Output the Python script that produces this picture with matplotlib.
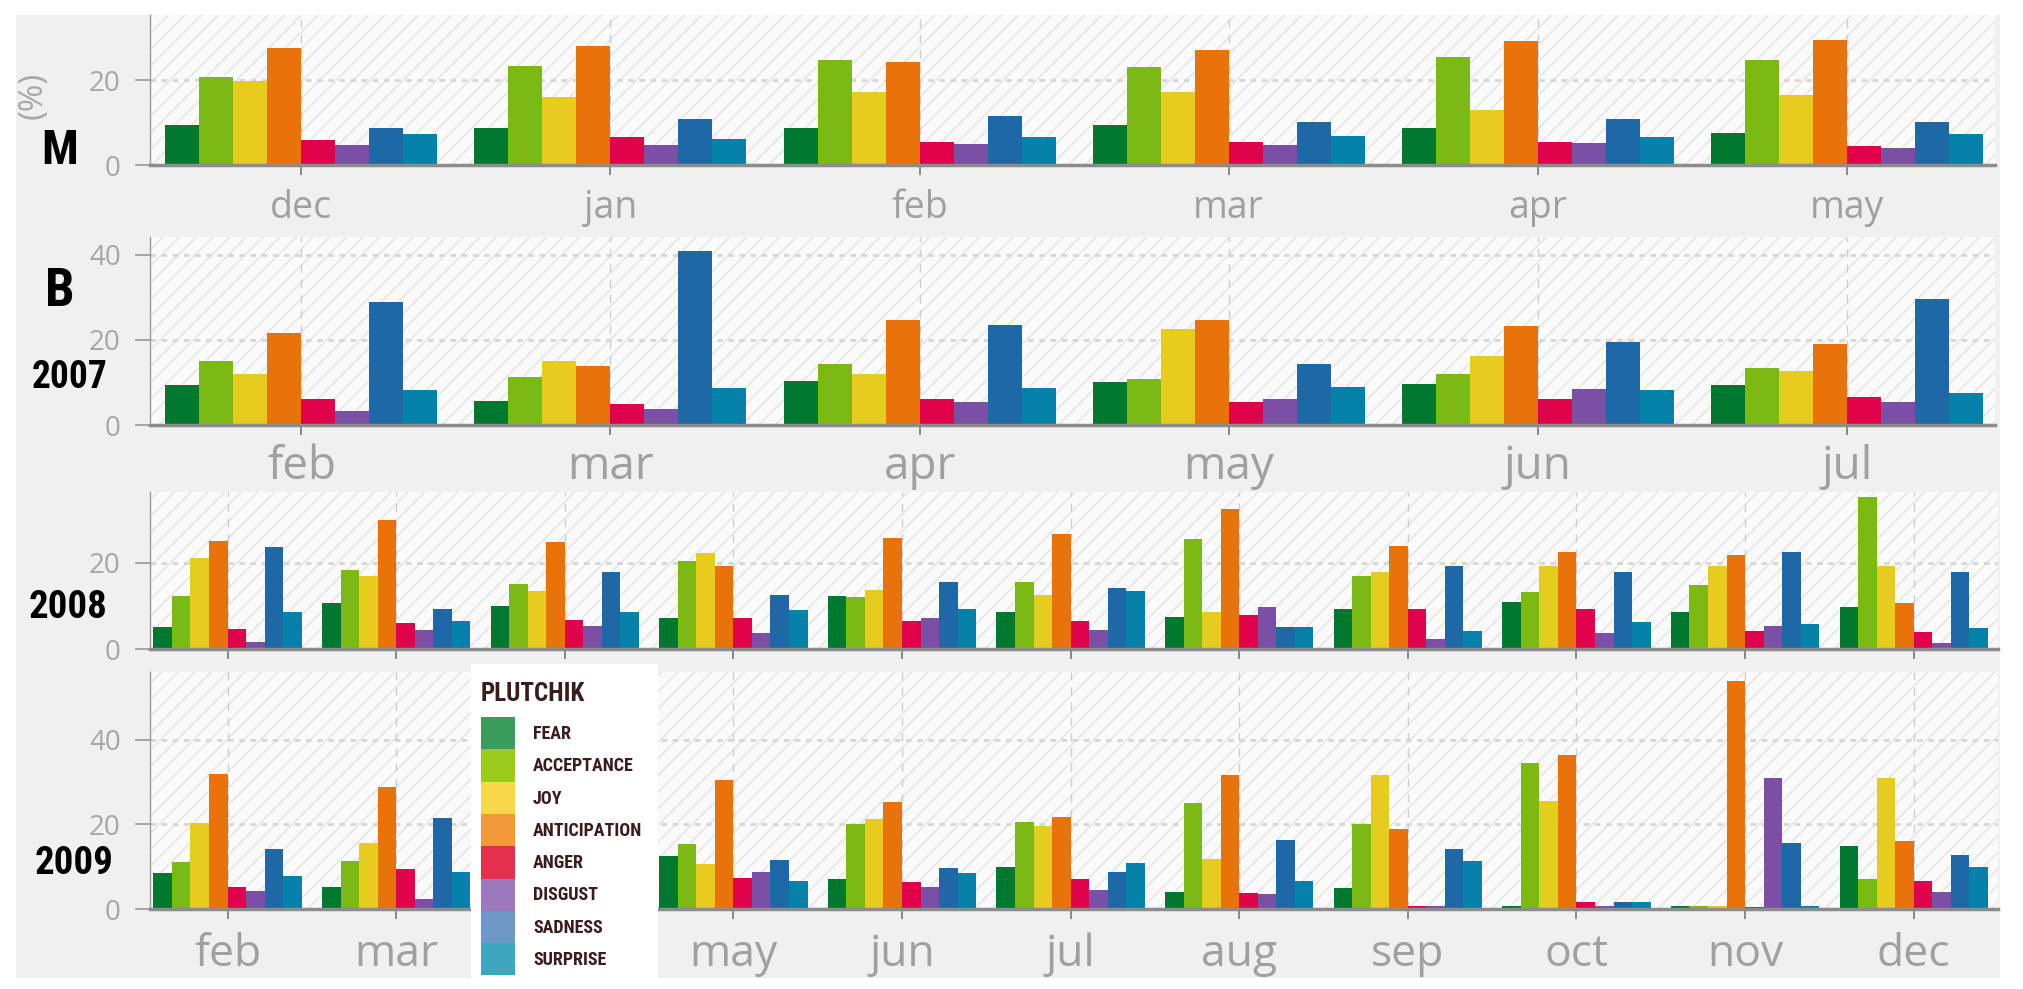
import numpy as np
import matplotlib.pyplot as plt
import matplotlib.font_manager as fm
from matplotlib.patches import Rectangle

# Emotion categories (Plutchik) and colours
emotions = ['fear', 'acceptance', 'joy', 'anticipation', 'anger', 'disgust', 'sadness', 'surprise']
bar_colors = ['#00782f', '#7aba12', '#e6cc1e', '#e8730b', '#e0034b', '#7b4fa6', '#1f68a8', '#0581aa']
legend_colors = ['#3a9c5c', '#9bcb1d', '#f8d84b', '#f2993b', '#e4304f', '#9c78bd', '#6d98c8', '#3ea6bf']

# Panel M
m_months = ['dec', 'jan', 'feb', 'mar', 'apr', 'may']
m_vals = [
    [9.4, 20.7, 19.8, 27.5, 6.0, 4.6, 8.8, 7.2],
    [8.6, 23.2, 16.0, 28.1, 6.5, 4.6, 10.9, 6.1],
    [8.6, 24.7, 17.2, 24.2, 5.4, 5.0, 11.6, 6.7],
    [9.4, 23.1, 17.2, 27.0, 5.3, 4.6, 10.1, 6.9],
    [8.6, 25.4, 12.9, 29.1, 5.3, 5.1, 10.9, 6.7],
    [7.5, 24.7, 16.4, 29.5, 4.5, 3.9, 10.1, 7.3],
]

# Panel B, 2007
b07_months = ['feb', 'mar', 'apr', 'may', 'jun', 'jul']
b07_vals = [
    [9.4, 15.0, 12.1, 21.7, 6.0, 3.4, 28.9, 8.3],
    [5.7, 11.3, 15.0, 13.8, 5.0, 3.8, 40.8, 8.8],
    [10.3, 14.3, 11.9, 24.8, 6.2, 5.3, 23.6, 8.8],
    [10.0, 10.8, 22.6, 24.7, 5.4, 6.2, 14.3, 8.9],
    [9.6, 12.1, 16.3, 23.2, 6.1, 8.5, 19.5, 8.2],
    [9.3, 13.5, 12.8, 19.0, 6.7, 5.4, 29.6, 7.5],
]

# Panel B, 2008 and 2009
yr_months = ['feb', 'mar', 'apr', 'may', 'jun', 'jul', 'aug', 'sep', 'oct', 'nov', 'dec']
b08_vals = [
    [5.2, 12.4, 21.1, 25.1, 4.7, 1.7, 23.7, 8.5],
    [10.7, 18.3, 16.9, 30.0, 6.0, 4.4, 9.3, 6.6],
    [9.9, 15.1, 13.5, 24.9, 6.7, 5.4, 17.9, 8.6],
    [7.2, 20.5, 22.3, 19.2, 7.3, 3.8, 12.6, 9.1],
    [12.4, 12.0, 13.7, 25.8, 6.6, 7.1, 15.6, 9.2],
    [8.5, 15.6, 12.6, 26.8, 6.5, 4.5, 14.1, 13.6],
    [7.5, 25.6, 8.5, 32.5, 7.9, 9.8, 5.2, 5.2],
    [9.2, 17.0, 17.8, 23.9, 9.3, 2.4, 19.2, 4.1],
    [10.9, 13.3, 19.2, 22.5, 9.3, 3.7, 17.9, 6.2],
    [8.5, 14.9, 19.4, 21.8, 4.3, 5.4, 22.6, 5.8],
    [9.8, 35.3, 19.4, 10.8, 4.0, 1.5, 17.9, 4.8],
]
nan = np.nan
b09_vals = [
    [8.6, 11.1, 20.3, 31.8, 5.1, 4.3, 14.1, 7.8],
    [5.2, 11.4, 15.7, 28.9, 9.4, 2.4, 21.5, 8.7],
    [nan, nan, nan, nan, nan, nan, nan, nan],  # hidden behind the legend
    [12.6, 15.4, 10.7, 30.4, 7.4, 8.7, 11.5, 6.6],
    [7.1, 20.1, 21.3, 25.2, 6.3, 5.1, 9.8, 8.5],
    [9.9, 20.6, 19.7, 21.7, 7.0, 4.6, 8.8, 10.9],
    [3.9, 25.0, 11.8, 31.7, 3.7, 3.6, 16.2, 6.6],
    [4.9, 20.0, 31.6, 18.8, 0.8, 0.8, 14.1, 11.3],
    [0.6, 34.6, 25.6, 36.4, 1.6, 0.6, 1.6, 1.6],
    [0.6, 0.6, 0.6, 53.9, 0.4, 31.0, 15.5, 0.6],
    [15.0, 7.2, 31.0, 16.0, 6.6, 3.9, 12.7, 10.0],
]

# fonts: Open Sans for axis text, a narrow bold face for legend/year labels
names = {f.name for f in fm.fontManager.ttflist}
narrow = 'DejaVu Sans'
for n in ['Roboto Condensed', 'Liberation Sans Narrow', 'Open Sans Condensed']:
    if n in names:
        narrow = n
        break
plt.rcParams['font.family'] = ['Open Sans', 'DejaVu Sans']
plt.rcParams['hatch.linewidth'] = 1.0

W, H = 2023, 989
fig = plt.figure(figsize=(W / 100, H / 100), dpi=100, facecolor='white')
fig.add_artist(Rectangle((16 / W, 1 - 978 / H), 1984 / W, 963 / H, transform=fig.transFigure,
                         facecolor='#f0f0f0', edgecolor='none', zorder=-10))


def px_axes(left, top, right, bottom):
    return fig.add_axes([left / W, 1 - bottom / H, (right - left) / W, (bottom - top) / H])


def panel(box, months, vals, ytop, yticks, xlim, labels=True, lsize=27, lpad=8):
    ax = px_axes(*box)
    vals = np.array(vals, dtype=float)
    x = np.arange(len(months))
    w = 0.11
    ax.set_facecolor('none')
    ax.add_patch(Rectangle((0, 0), 1, 1, transform=ax.transAxes, facecolor='#fafafa',
                           edgecolor='#e2e2e2', hatch='//', linewidth=0, zorder=0))
    for i in range(len(emotions)):
        ax.bar(x + (i - 3.5) * w, vals[:, i], w, color=bar_colors[i], linewidth=0, zorder=2)
    ax.set_xlim(*xlim)
    ax.set_ylim(0, ytop)
    ax.set_yticks(yticks)
    ax.set_xticks(x)
    ax.set_xticklabels(months if labels else [])
    ax.set_axisbelow(True)
    ax.grid(axis='y', color='#d6d6d6', linestyle=(0, (2, 2)), linewidth=2)
    ax.grid(axis='x', color='#cdcdcd', linestyle=(0, (6, 5)), linewidth=1)
    for s in ['top', 'right']:
        ax.spines[s].set_visible(False)
    ax.spines['left'].set_color('#9a9a9a')
    ax.spines['left'].set_linewidth(1)
    ax.spines['bottom'].set_color('#8c8c8c')
    ax.spines['bottom'].set_linewidth(2.5)
    ax.tick_params(axis='y', length=11, width=1.2, color='#999999', labelcolor='#a6a6a6',
                   labelsize=20, pad=10)
    ax.tick_params(axis='x', length=7, width=1.2, color='#777777', labelcolor='#a0a0a0',
                   labelsize=lsize, pad=lpad)
    return ax


panel((150, 15, 1995, 165), m_months, m_vals, 35.3, [0, 20], (-0.49, 5.48), lsize=27, lpad=10)
panel((150, 237, 1995, 425), b07_months, b07_vals, 44.2, [0, 20, 40], (-0.49, 5.48), lsize=33, lpad=7)
panel((150, 492, 1998, 649), yr_months, b08_vals, 36.5, [0, 20], (-0.46, 10.5), labels=False)
ax09 = panel((150, 672, 1998, 909), yr_months, b09_vals, 56, [0, 20, 40], (-0.46, 10.5),
             lsize=32, lpad=10)
ax09.get_xticklabels()[2].set_visible(False)  # 'apr' sits under the legend

# left-side panel labels
def ftext(x, y, s, **kw):
    fig.text(x / W, 1 - y / H, s, ha='center', va='center', **kw)

ftext(60, 151, 'M', fontsize=35, fontweight='bold', color='black', family=narrow)
ftext(60, 292, 'B', fontsize=38, fontweight='bold', color='black', family=narrow)
ftext(70, 377, '2007', fontsize=27, fontweight='bold', color='black', family=narrow)
ftext(68, 607, '2008', fontsize=28, fontweight='bold', color='black', family=narrow)
ftext(74, 864, '2009', fontsize=28, fontweight='bold', color='black', family=narrow)
ftext(33, 95, '(%)', fontsize=24, color='#a8a8a8', rotation=90)

# legend box
lax = px_axes(471, 664, 658, 979)
lax.set_facecolor('white')
lax.set_xlim(0, 187)
lax.set_ylim(315, 0)
lax.set_xticks([])
lax.set_yticks([])
for s in lax.spines.values():
    s.set_visible(False)
lax.text(10, 30, 'PLUTCHIK', fontsize=18, fontweight='bold', color='#3a1c1c', va='center',
         family=narrow)
step = 32.3
for i, c in enumerate(legend_colors):
    lax.add_patch(Rectangle((10, 53 + i * step), 34, step, facecolor=c, linewidth=0))
    lax.text(62, 53 + i * step + 17, emotions[i].upper(), fontsize=13, fontweight='bold',
             color='#3a1c1c', va='center', family=narrow)

fig.savefig('out.png', dpi=100)
